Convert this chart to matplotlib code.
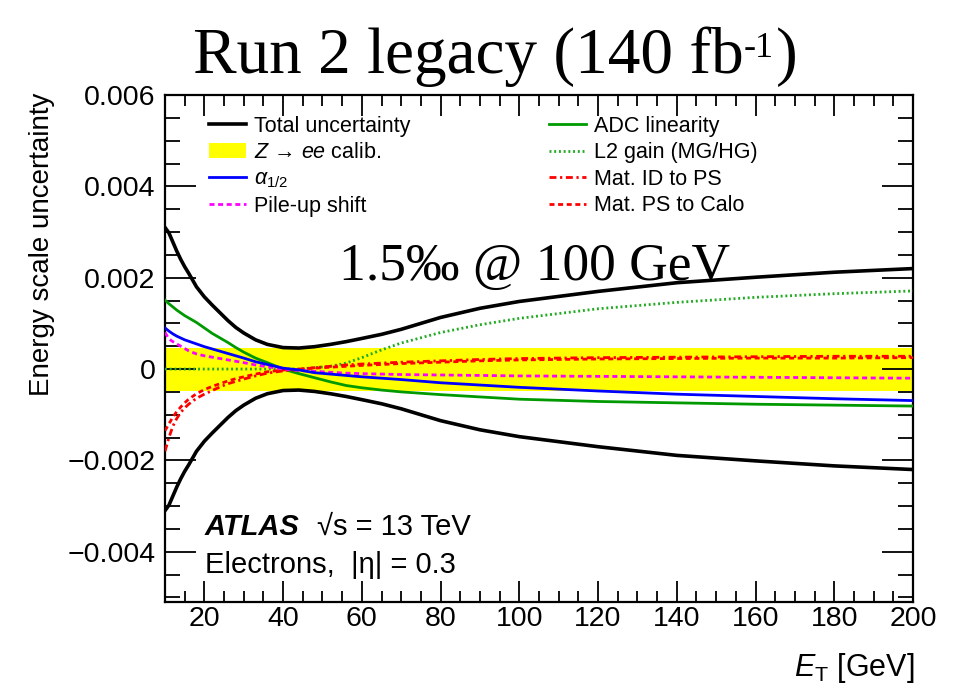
import numpy as np
import matplotlib
matplotlib.use("Agg")
from matplotlib import pyplot as plt
from matplotlib.patches import Patch
from matplotlib.lines import Line2D
from matplotlib.ticker import MultipleLocator, FixedLocator

plt.rcParams['font.family'] = ['Liberation Sans', 'DejaVu Sans']
plt.rcParams['mathtext.fontset'] = 'custom'
plt.rcParams['mathtext.rm'] = 'Liberation Sans'
plt.rcParams['mathtext.it'] = 'Liberation Sans:italic'
plt.rcParams['mathtext.bf'] = 'Liberation Sans:bold'

# E_T points (GeV) and uncertainties (in units of 1e-3)
et = [10, 11, 12, 13, 14, 15, 16, 18, 20, 22, 24, 26, 28, 30, 33, 36, 40,
      44, 48, 52, 56, 60, 65, 70, 80, 90, 100, 120, 140, 160, 180, 200]
total = [3.10, 2.98, 2.78, 2.58, 2.40, 2.24, 2.10, 1.80, 1.58, 1.40, 1.23, 1.06, 0.91, 0.79, 0.64, 0.54, 0.47,
         0.46, 0.49, 0.54, 0.60, 0.67, 0.76, 0.87, 1.13, 1.33, 1.48, 1.70, 1.89, 2.01, 2.12, 2.20]
adc = [1.51, 1.43, 1.36, 1.29, 1.23, 1.17, 1.12, 1.02, 0.90, 0.78, 0.68, 0.58, 0.47, 0.37, 0.24, 0.14, 0.00,
       -0.10, -0.19, -0.28, -0.36, -0.41, -0.46, -0.50, -0.56, -0.61, -0.66, -0.71, -0.74, -0.77, -0.79, -0.81]
l2gain = [0.0, 0.0, 0.0, 0.0, 0.0, 0.0, 0.0, 0.0, 0.0, 0.0, 0.0, 0.0, 0.0, 0.0, 0.0, 0.0, 0.0,
          0.0, 0.03, 0.06, 0.13, 0.25, 0.42, 0.57, 0.80, 0.97, 1.11, 1.32, 1.46, 1.57, 1.65, 1.71]
alpha12 = [0.90, 0.83, 0.77, 0.72, 0.68, 0.64, 0.61, 0.55, 0.49, 0.44, 0.39, 0.34, 0.29, 0.24, 0.16, 0.10, 0.02,
           -0.02, -0.08, -0.11, -0.14, -0.17, -0.20, -0.23, -0.30, -0.35, -0.40, -0.48, -0.55, -0.60, -0.65, -0.69]
pileup = [0.80, 0.66, 0.60, 0.55, 0.50, 0.45, 0.40, 0.33, 0.29, 0.26, 0.23, 0.20, 0.17, 0.14, 0.09, 0.05, 0.00,
          -0.03, -0.05, -0.07, -0.09, -0.10, -0.11, -0.12, -0.13, -0.14, -0.15, -0.16, -0.17, -0.18, -0.19, -0.20]
mat_id_ps = [-1.80, -1.50, -1.25, -1.08, -0.95, -0.85, -0.77, -0.64, -0.55, -0.47, -0.39, -0.32, -0.27, -0.22, -0.15, -0.09, -0.04,
             -0.01, 0.03, 0.06, 0.09, 0.11, 0.13, 0.15, 0.18, 0.21, 0.23, 0.25, 0.26, 0.27, 0.28, 0.28]
mat_ps_calo = [-1.35, -1.20, -1.05, -0.93, -0.83, -0.74, -0.66, -0.54, -0.45, -0.38, -0.32, -0.26, -0.21, -0.17, -0.11, -0.06, -0.02,
               0.00, 0.02, 0.04, 0.06, 0.08, 0.10, 0.12, 0.15, 0.18, 0.20, 0.22, 0.23, 0.24, 0.24, 0.25]
zee_band = 0.47

et = np.array(et)
s = 1e-3

fig = plt.figure(figsize=(9.57, 6.97), dpi=100)
ax = fig.add_axes([165/957, 1-602/697, (913-165)/957, (602-95)/697])

ax.fill_between([10, 200], -zee_band*s, zee_band*s, color='#ffff00', lw=0, zorder=1)

green = '#009a00'
lw = 2.0
dotted = (0, (0.7, 1.0))
dashdot = (0, (2.5, 1.3, 0.8, 1.3))
dashed = (0, (1.8, 1.3))
ax.plot(et, np.array(adc)*s, color=green, lw=lw, zorder=3)
ax.plot(et, np.array(l2gain)*s, color='#22aa22', lw=lw, ls=dotted, zorder=3)
ax.plot(et, np.array(mat_id_ps)*s, color='#ff0000', lw=lw, ls=dashdot, zorder=3)
ax.plot(et, np.array(mat_ps_calo)*s, color='#ff0000', lw=lw, ls=dashed, zorder=3)
ax.plot(et, np.array(pileup)*s, color='#ff00ff', lw=lw, ls=dashed, zorder=3)
ax.plot(et, np.array(alpha12)*s, color='#0000ff', lw=lw, zorder=3)
ax.plot(et, np.array(total)*s, color='black', lw=2.6, zorder=4)
ax.plot(et, -np.array(total)*s, color='black', lw=2.6, zorder=4)

ax.set_xlim(10, 200)
ax.set_ylim(-0.0051, 0.006)
ax.xaxis.set_major_locator(FixedLocator([20, 40, 60, 80, 100, 120, 140, 160, 180, 200]))
ax.xaxis.set_minor_locator(MultipleLocator(5))
ax.yaxis.set_major_locator(FixedLocator([-0.004, -0.002, 0, 0.002, 0.004, 0.006]))
ax.yaxis.set_minor_locator(MultipleLocator(0.0005))
ax.set_yticklabels(['\u22120.004', '\u22120.002', '0', '0.002', '0.004', '0.006'])
ax.tick_params(axis='both', which='both', direction='in', top=True, right=True, labelsize=20.5, width=1.3)
ax.tick_params(axis='x', which='major', length=15, pad=3)
ax.tick_params(axis='x', which='minor', length=8)
ax.tick_params(axis='y', which='major', length=22, pad=7)
ax.tick_params(axis='y', which='minor', length=11)
for sp in ax.spines.values():
    sp.set_linewidth(1.6)

# legends
h_left = [Line2D([], [], color='black', lw=2.6),
          Patch(facecolor='#ffff00', edgecolor='none'),
          Line2D([], [], color='#0000ff', lw=lw),
          Line2D([], [], color='#ff00ff', lw=lw, ls=dashed)]
l_left = ['Total uncertainty', r'$Z$ → $ee$ calib.', r'$\alpha_{1/2}$', 'Pile-up shift']
h_right = [Line2D([], [], color=green, lw=lw),
           Line2D([], [], color='#22aa22', lw=lw, ls=dotted),
           Line2D([], [], color='#ff0000', lw=lw, ls=dashdot),
           Line2D([], [], color='#ff0000', lw=lw, ls=dashed)]
l_right = ['ADC linearity', 'L2 gain (MG/HG)', 'Mat. ID to PS', 'Mat. PS to Calo']
kw = dict(frameon=False, fontsize=15.5, handlelength=1.7, handletextpad=0.4,
          labelspacing=0.25, borderaxespad=0, borderpad=0, loc='upper left')
leg1 = ax.legend(h_left, l_left, bbox_to_anchor=((209-165)/748, 1-(116-95)/507), **kw)
ax.add_artist(leg1)
ax.legend(h_right, l_right, bbox_to_anchor=((549-165)/748, 1-(116-95)/507), **kw)

# texts
fig.text(535/957, 1-280/697, '1.5‰ @ 100 GeV', fontsize=38.5, family='Liberation Serif',
         ha='center', va='baseline', zorder=5)
fig.text(205/957, 1-535/697, 'ATLAS', fontsize=21, weight='bold', style='italic', va='baseline')
fig.text(317/957, 1-535/697, '√s = 13 TeV', fontsize=21, va='baseline')
fig.text(205/957, 1-573/697, 'Electrons,  |η| = 0.3', fontsize=21, va='baseline')
fig.text(915/957, 1-676/697, r'$E_{\rm T}$ [GeV]', fontsize=22, ha='right', va='baseline')
fig.text(42/957, 1-93/697, 'Energy scale uncertainty', fontsize=20, rotation=90,
         ha='center', va='top')

# title with superscript
t1 = fig.text(193/957, 1-73/697, 'Run 2 legacy (140 fb', fontsize=47, family='Liberation Serif',
              va='baseline')
fig.canvas.draw()
bb = t1.get_window_extent()
t2 = fig.text(bb.x1/957, 1-57/697, '-1', fontsize=26, family='Liberation Serif', va='baseline')
fig.canvas.draw()
bb2 = t2.get_window_extent()
fig.text(bb2.x1/957 + 0.002, 1-73/697, ')', fontsize=47, family='Liberation Serif', va='baseline')

fig.savefig('out.png', dpi=100)
